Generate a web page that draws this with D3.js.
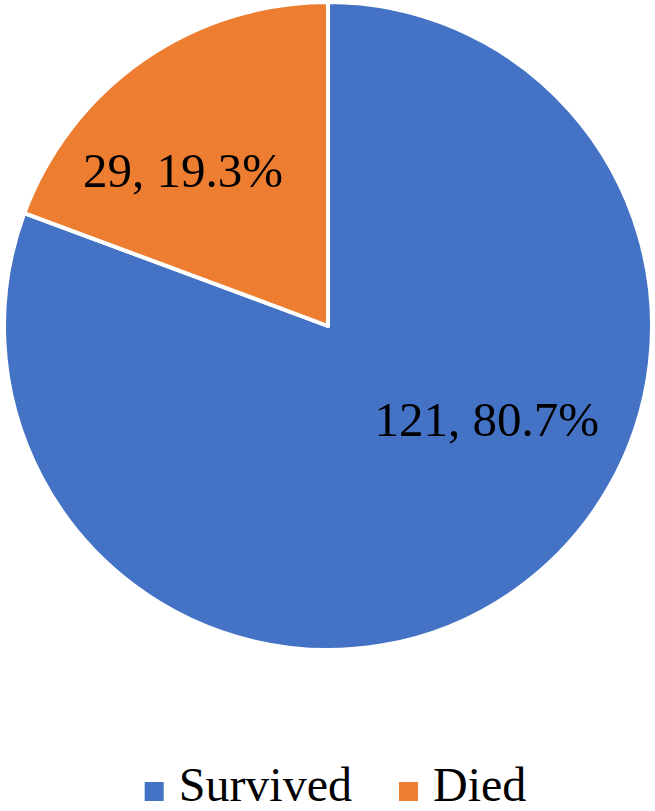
<!DOCTYPE html>
<html>
<head>
<meta charset="utf-8">
<script src="https://cdn.jsdelivr.net/npm/d3@7"></script>
<style>
  body { margin: 0; background: #fff; }
  text { font-family: "Liberation Serif", "Times New Roman", serif; }
</style>
</head>
<body>
<svg id="chart" width="655" height="811"></svg>
<script>
var width = 655, height = 811;

// data
var categories = ["Survived", "Died"];
var counts = [121, 29];
var percents = ["80.7%", "19.3%"];
var colors = ["#4472C4", "#ED7D31"];

var cx = 328, cy = 326, radius = 324;

var svg = d3.select("#chart");

var pie = d3.pie().sort(null).value(function(d) { return d; });
var arcs = pie(counts);

var arc = d3.arc().innerRadius(0).outerRadius(radius);

var g = svg.append("g").attr("transform", "translate(" + cx + "," + cy + ")");

g.selectAll("path.slice")
    .data(arcs)
  .enter().append("path")
    .attr("class", "slice")
    .attr("d", arc)
    .attr("fill", function(d, i) { return colors[i]; })
    .attr("stroke", "#fff")
    .attr("stroke-width", 4)
    .attr("stroke-linejoin", "round");

// labels - excel "best fit" lands them a bit off the centroid, nudge a little
var labelArc = d3.arc().innerRadius(radius * 0.6).outerRadius(radius * 0.6);
var nudge = [[0.148, -0.206], [-0.105, 0.01]];

g.selectAll("text.lbl")
    .data(arcs)
  .enter().append("text")
    .attr("class", "lbl")
    .attr("transform", function(d, i) {
        var c = labelArc.centroid(d);
        return "translate(" + (c[0] + nudge[i][0] * radius) + "," + (c[1] + nudge[i][1] * radius) + ")";
    })
    .attr("text-anchor", "middle")
    .attr("dy", "0.35em")
    .attr("font-size", 49)
    .attr("fill", "#000")
    .text(function(d, i) { return counts[i] + ", " + percents[i]; });

// legend
var legend = svg.append("g").attr("transform", "translate(0,801)");
var items = legend.selectAll("g.item")
    .data(categories)
  .enter().append("g")
    .attr("class", "item");

items.append("rect")
    .attr("y", -19)
    .attr("width", 19)
    .attr("height", 19)
    .attr("fill", function(d, i) { return colors[i]; });

items.append("text")
    .attr("x", 34)
    .attr("font-size", 48)
    .attr("fill", "#000")
    .text(function(d) { return d; });

var x = 0, widths = [];
items.each(function() {
    widths.push(this.getBBox().width);
});
var gap = 47;
var total = d3.sum(widths) + gap * (widths.length - 1);
x = (width - total) / 2 + 8;
items.attr("transform", function(d, i) {
    var t = "translate(" + x + ",0)";
    x += widths[i] + gap;
    return t;
});
</script>
</body>
</html>
